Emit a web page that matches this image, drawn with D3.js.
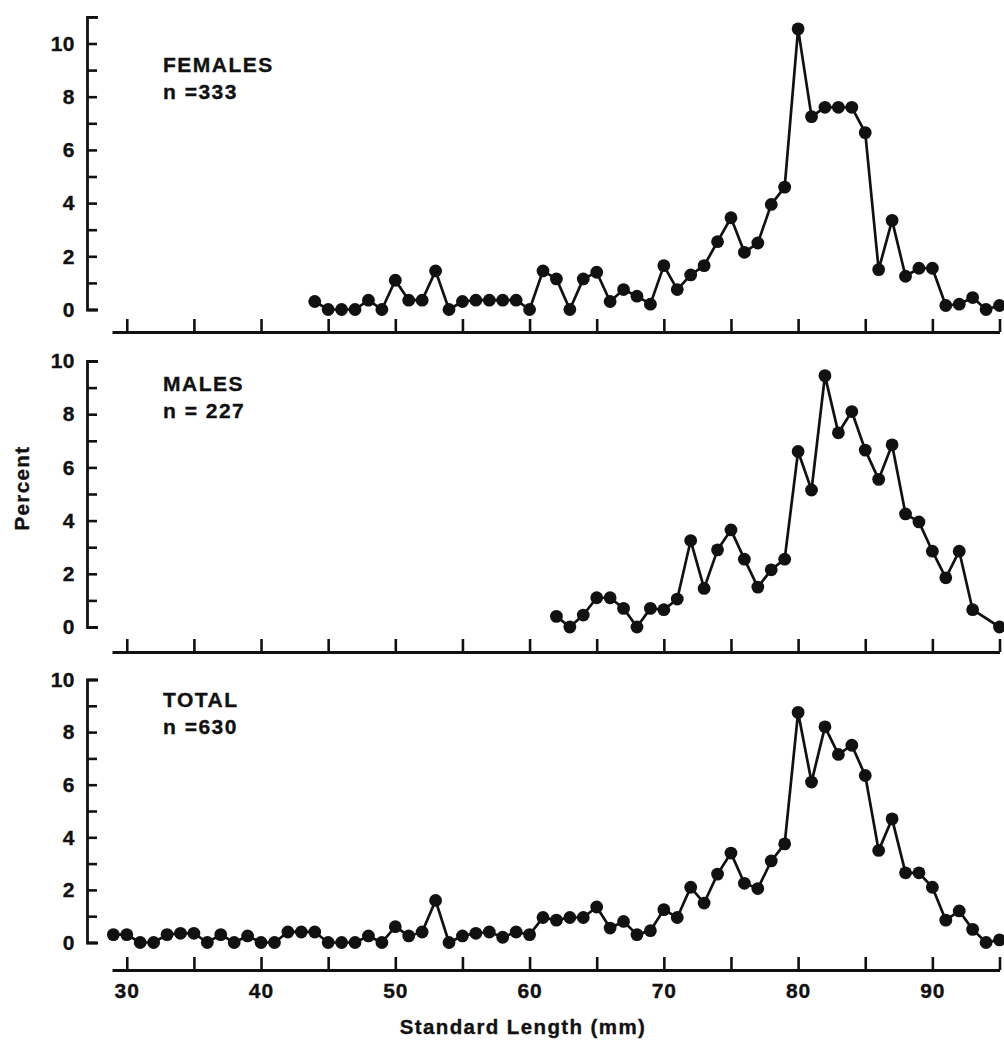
<!DOCTYPE html>
<html>
<head>
<meta charset="utf-8">
<script src="https://cdn.jsdelivr.net/npm/d3@7"></script>
<style>
  html, body { margin: 0; padding: 0; background: #fff; }
  svg { display: block; }
  text { font-family: "Liberation Sans", Arial, Helvetica, sans-serif; font-weight: bold; fill: #111; stroke: #111; stroke-width: 0.35px; }
</style>
</head>
<body>
<svg id="chart" width="1004" height="1042"></svg>
<script>
// Standard length classes (mm) and percent frequency for each sample
const femaleLength = [44,45,46,47,48,49,50,51,52,53,54,55,56,57,58,59,60,61,62,63,64,65,66,67,68,69,
  70,71,72,73,74,75,76,77,78,79,80,81,82,83,84,85,86,87,88,89,90,91,92,93,94,95];
const femalePercent = [0.3,0,0,0,0.35,0,1.1,0.35,0.35,1.45,0,0.3,0.35,0.35,0.35,0.35,0,1.45,1.15,0,1.15,1.4,0.3,0.75,0.5,0.2,
  1.65,0.75,1.3,1.65,2.55,3.45,2.15,2.5,3.95,4.6,10.55,7.25,7.6,7.6,7.6,6.65,1.5,3.35,1.25,1.55,1.55,0.15,0.2,0.45,0,0.15];

const maleLength = [62,63,64,65,66,67,68,69,70,71,72,73,74,75,76,77,78,79,80,81,82,83,84,85,86,87,88,89,90,91,92,93,95];
const malePercent = [0.4,0,0.45,1.1,1.1,0.7,0,0.7,0.65,1.05,3.25,1.45,2.9,3.65,2.55,1.5,2.15,2.55,6.6,5.15,9.45,7.3,8.1,6.65,5.55,6.85,
  4.25,3.95,2.85,1.85,2.85,0.65,0];

const totalLength = [29,30,31,32,33,34,35,36,37,38,39,40,41,42,43,44,45,46,47,48,49,50,51,52,53,54,55,56,57,58,59,
  60,61,62,63,64,65,66,67,68,69,70,71,72,73,74,75,76,77,78,79,80,81,82,83,84,85,86,87,88,89,90,91,92,93,94,95];
const totalPercent = [0.3,0.3,0,0,0.3,0.35,0.35,0,0.3,0,0.25,0,0,0.4,0.4,0.4,0,0,0,0.25,0,0.6,0.25,0.4,1.6,0,0.25,0.35,0.4,0.2,0.4,
  0.3,0.95,0.85,0.95,0.95,1.35,0.55,0.8,0.3,0.45,1.25,0.95,2.1,1.5,2.6,3.4,2.25,2.05,3.1,3.75,8.75,6.1,8.2,7.15,7.5,6.35,3.5,4.7,
  2.65,2.65,2.1,0.85,1.2,0.5,0,0.1];

const panelNames = ["FEMALES", "MALES", "TOTAL"];
const sampleSizes = ["n =333", "n = 227", "n =630"];
const yTickValues = [0,1,2,3,4,5,6,7,8,9,10,11];
const xTickValues = [30,35,40,45,50,55,60,65,70,75,80,85,90,95];
const xLabelValues = [30,40,50,60,70,80,90];
const xTitle = "Standard Length (mm)";
const yTitle = "Percent";

const series = [
  { name: panelNames[0], n: sampleSizes[0], len: femaleLength, pct: femalePercent, yMax: 11 },
  { name: panelNames[1], n: sampleSizes[1], len: maleLength,   pct: malePercent,   yMax: 10 },
  { name: panelNames[2], n: sampleSizes[2], len: totalLength,  pct: totalPercent,  yMax: 10 }
];

// panel geometry
const axisX = 87;
const panels = [
  { zero: 309.5, unit: 26.6, xAxisY: 332, labelY: 64 },
  { zero: 627,   unit: 26.6, xAxisY: 652, labelY: 383 },
  { zero: 942.5, unit: 26.3, xAxisY: 970, labelY: 699 }
];

const svg = d3.select("#chart");
const ink = "#111";

const x = d3.scaleLinear().domain([28.9, 95]).range([112, 999.5]);

series.forEach((s, i) => {
  const p = panels[i];
  const y = d3.scaleLinear().domain([0, s.yMax]).range([p.zero, p.zero - s.yMax * p.unit]);
  const g = svg.append("g");

  // y axis: ticks point inward, bracket ends
  const yAxis = d3.axisLeft(y)
    .tickValues(yTickValues.filter(v => v <= s.yMax))
    .tickSizeInner(-10)
    .tickSizeOuter(-11)
    .tickPadding(12)
    .tickFormat(v => (v % 2 === 0 && v <= 10) ? String(v) : "");
  const ya = g.append("g").attr("transform", `translate(${axisX},0)`).call(yAxis);
  ya.select(".domain").attr("stroke", ink).attr("stroke-width", 2.8).attr("fill", "none");
  ya.selectAll(".tick line").attr("stroke", ink).attr("stroke-width", 2.6);
  ya.selectAll(".tick text").attr("font-size", 21).attr("letter-spacing", 0.5).attr("fill", ink);

  // x axis: ticks point up
  const xAxis = d3.axisBottom(x)
    .tickValues(xTickValues)
    .tickSizeInner(-13)
    .tickSizeOuter(0)
    .tickPadding(13)
    .tickFormat(v => (i === 2 && xLabelValues.includes(v)) ? String(v) : "");
  const xa = g.append("g").attr("transform", `translate(0,${p.xAxisY})`).call(xAxis);
  xa.select(".domain").attr("stroke", ink).attr("stroke-width", 3);
  xa.selectAll(".tick line").attr("stroke", ink).attr("stroke-width", 2.6);
  xa.selectAll(".tick text").attr("font-size", 21).attr("letter-spacing", 1).attr("fill", ink);

  // data
  const pts = s.len.map((l, k) => ({ l, v: s.pct[k] }));
  const line = d3.line().x(d => x(d.l)).y(d => y(d.v));
  g.append("path").datum(pts)
    .attr("d", line)
    .attr("fill", "none")
    .attr("stroke", ink)
    .attr("stroke-width", 2.7)
    .attr("stroke-linejoin", "round");
  g.selectAll("circle.pt").data(pts).join("circle")
    .attr("class", "pt")
    .attr("cx", d => x(d.l))
    .attr("cy", d => y(d.v))
    .attr("r", 6.4)
    .attr("fill", ink);

  // panel caption
  g.append("text").attr("x", 163).attr("y", p.labelY + 7.5)
    .attr("font-size", 21).attr("letter-spacing", 1.5).text(s.name);
  g.append("text").attr("x", 163).attr("y", p.labelY + 34.5)
    .attr("font-size", 21).attr("letter-spacing", 1.5).text(s.n);
});

// axis titles
svg.append("text")
  .attr("x", 523).attr("y", 1034)
  .attr("text-anchor", "middle")
  .attr("font-size", 20.5).attr("letter-spacing", 1.4)
  .text(xTitle);

svg.append("text")
  .attr("transform", "translate(29,488) rotate(-90)")
  .attr("text-anchor", "middle")
  .attr("font-size", 20.5).attr("letter-spacing", 1.4)
  .text(yTitle);
</script>
</body>
</html>
